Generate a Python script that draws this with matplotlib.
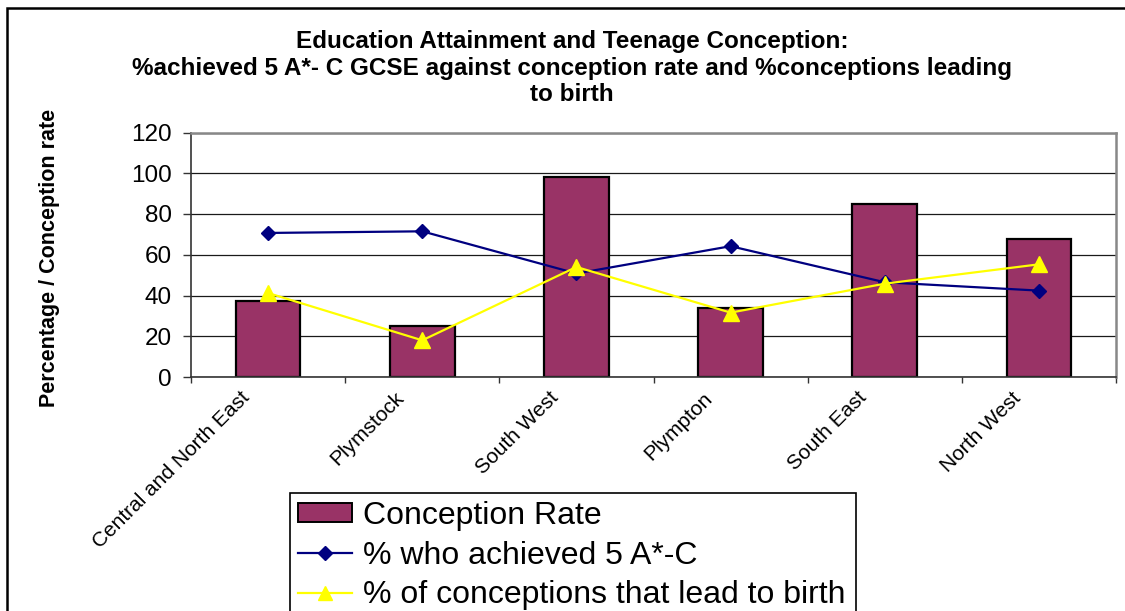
import numpy as np
import matplotlib
matplotlib.use("Agg")
import matplotlib.pyplot as plt
from matplotlib.patches import Rectangle
from matplotlib.lines import Line2D
from matplotlib.transforms import ScaledTranslation

plt.rcParams['font.family'] = ['Liberation Sans', 'DejaVu Sans']

# ---- data ----
categories = ['Central and North East', 'Plymstock', 'South West',
              'Plympton', 'South East', 'North West']
conception_rate = [37.5, 25.0, 98.2, 34.0, 85.0, 67.6]
pct_5_a_c = [70.7, 71.5, 50.8, 64.2, 46.5, 42.4]
pct_lead_to_birth = [41.2, 18.0, 54.0, 31.6, 45.8, 55.3]
y_ticks = [0, 20, 40, 60, 80, 100, 120]

title_lines = ['Education Attainment and Teenage Conception:',
               '%achieved 5 A*- C GCSE against conception rate and %conceptions leading',
               'to birth']
y_label = 'Percentage / Conception rate'
series_names = ['Conception Rate', '% who achieved 5 A*-C',
                '% of conceptions that lead to birth']

BAR = '#993366'
NAVY = '#000080'
YELLOW = '#FFFF00'

W, H = 1125, 611
fig = plt.figure(figsize=(W / 100, H / 100), dpi=100)

# plot area in pixel coordinates
left, right, top, bottom = 191, 1116, 132.5, 377
ax = fig.add_axes([left / W, 1 - bottom / H, (right - left) / W, (bottom - top) / H])

x = np.arange(len(categories))
ax.bar(x, conception_rate, width=0.42, color=BAR, edgecolor='black',
       linewidth=1.6, zorder=2)
ax.plot(x, pct_5_a_c, color=NAVY, lw=1.6, marker='D', ms=7.5,
        markerfacecolor=NAVY, markeredgecolor=NAVY, zorder=3)
ax.plot(x, pct_lead_to_birth, color=YELLOW, lw=1.6, marker='^', ms=11,
        markerfacecolor=YELLOW, markeredgecolor=YELLOW, zorder=4)

ax.set_xlim(-0.5, len(categories) - 0.5)
ax.set_ylim(0, 120)
ax.set_yticks(y_ticks)
ax.yaxis.grid(True, color='#1a1a1a', lw=0.9)
ax.set_axisbelow(True)

# category boundary ticks on the x axis
ax.set_xticks(np.arange(-0.5, len(categories), 1.0))
ax.set_xticklabels([])
ax.tick_params(axis='x', direction='out', length=4, width=1, color='#333333')
ax.tick_params(axis='y', direction='out', length=6, width=1, color='#333333',
               pad=8, labelsize=17.5)

for s in ['left', 'bottom']:
    ax.spines[s].set_color('#333333')
    ax.spines[s].set_linewidth(1.2)
for s in ['top', 'right']:
    ax.spines[s].set_color('#888888')
    ax.spines[s].set_linewidth(1.8)

# rotated category labels
lab_off = ax.get_xaxis_transform() + ScaledTranslation(-21 / 100, -18 / 100,
                                                       fig.dpi_scale_trans)
for xi, name in zip(x, categories):
    ax.text(xi, 0, name, transform=lab_off, rotation=45, ha='right',
            va='center', rotation_mode='anchor', fontsize=15, clip_on=False)

# title
title_x = 572 / W
for yb, line in zip([48, 75, 101], title_lines):
    fig.text(title_x, 1 - yb / H, line, ha='center', va='baseline',
             fontsize=17.5, fontweight='bold')

fig.text(50 / W, 1 - 258 / H, y_label, rotation=90, ha='center', va='center',
         fontsize=15.5, fontweight='bold')

# legend
handles = [Rectangle((0, 0), 1, 1, facecolor=BAR, edgecolor='black', lw=1.4),
           Line2D([], [], color=NAVY, lw=1.6, marker='D', ms=7),
           Line2D([], [], color=YELLOW, lw=1.6, marker='^', ms=10)]
leg = ax.legend(handles, series_names, loc='upper left',
                bbox_to_anchor=(290 / W, 1 - 493 / H, (856 - 290) / W, 0),
                bbox_transform=fig.transFigure, mode='expand',
                frameon=True, fancybox=False, framealpha=1, edgecolor='black',
                fontsize=23, borderpad=0.25, labelspacing=0.3,
                handlelength=1.7, handleheight=0.55, handletextpad=0.35,
                numpoints=1, borderaxespad=0)
leg.get_frame().set_linewidth(1.2)

# chart border
fig.patches.append(Rectangle((7 / W, -0.2), 1.5, 1.2 - 8 / H,
                             transform=fig.transFigure, fill=False,
                             edgecolor='black', lw=1.8))

fig.savefig('out.png', dpi=100)
